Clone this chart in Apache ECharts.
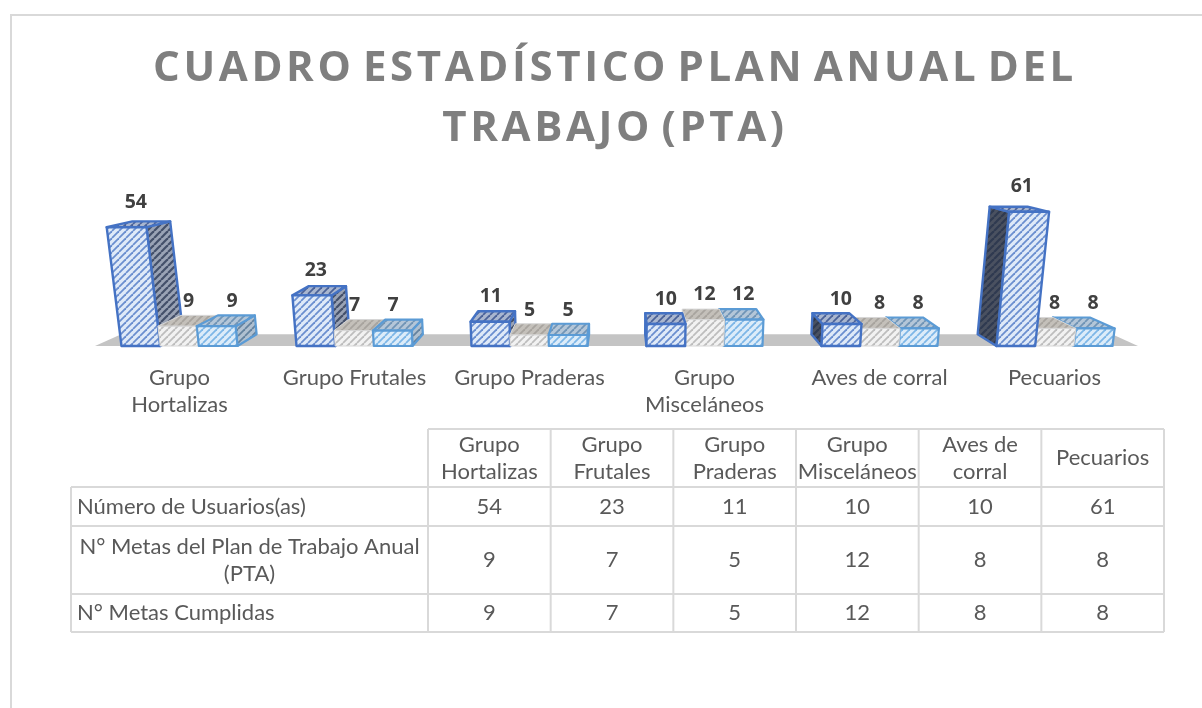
<!DOCTYPE html>
<html><head><meta charset="utf-8">
<style>html,body{margin:0;padding:0;background:#fff}#c{width:1202px;height:708px}</style>
<script src="https://cdn.jsdelivr.net/npm/echarts@6/dist/echarts.min.js"></script>
</head><body><div id="c"></div>
<script>
const categories = ['Grupo Hortalizas','Grupo Frutales','Grupo Praderas','Grupo Misceláneos','Aves de corral','Pecuarios'];
const axisLabels = ['Grupo\nHortalizas','Grupo Frutales','Grupo Praderas','Grupo\nMisceláneos','Aves de corral','Pecuarios'];
const headerLabels = ['Grupo\nHortalizas','Grupo\nFrutales','Grupo\nPraderas','Grupo\nMisceláneos','Aves de\ncorral','Pecuarios'];
const seriesNames = ['Número de Usuarios(as)','N° Metas del Plan de Trabajo Anual (PTA)','N° Metas Cumplidas'];
const rowLabels = ['Número de Usuarios(as)','N° Metas del Plan de Trabajo Anual\n(PTA)','N° Metas Cumplidas'];
const usuarios = [54,23,11,10,10,61];
const metas = [9,7,5,12,8,8];
const cumplidas = [9,7,5,12,8,8];
const titleText = 'CUADRO ESTADÍSTICO PLAN ANUAL DEL\nTRABAJO (PTA)';
const seriesData = [usuarios, metas, cumplidas];

const FONT = 'Lato, sans-serif', BOLD = '"Open Sans", sans-serif';
const CX = 620, VY = 110, DEPTH = 0.05, LEAN = 0.00055, BAND = 116/175;
const labelNudge = {0:[-5,9,14], 5:[6,0,0]};

function hatch(bg, fg, w){
  const s = 7, c = document.createElement('canvas'); c.width = s; c.height = s;
  const g = c.getContext('2d'); g.fillStyle = bg; g.fillRect(0,0,s,s);
  g.strokeStyle = fg; g.lineWidth = w;
  [-s,0,s].forEach(o=>{ g.beginPath(); g.moveTo(o,s); g.lineTo(o+s,0); g.stroke(); });
  return {image:c, repeat:'repeat'};
}
const skins = [
  {front:hatch('#dfeaf8','#6a8ecf',1.8), top:hatch('#a9b6cf','#4a6298',1.8), side:hatch('#9aa3b5','#44506a',2.2), sideR:hatch('#4a5160','#2f3a50',2.2), line:'#4472c4', lw:2.4},
  {front:hatch('#f2f2f2','#bdbdbd',1.8), top:hatch('#c4c0ba','#a8a49e',1.8), side:hatch('#c0bdb8','#a4a09a',1.8), sideR:hatch('#c0bdb8','#a4a09a',1.8), line:'#d6d6d6', lw:1},
  {front:hatch('#dcecf9','#7db6e6',1.8), top:hatch('#b4c6d8','#7094b6',1.8), side:hatch('#b0c0d0','#64829e',1.8), sideR:hatch('#b0c0d0','#64829e',1.8), line:'#5b9bd5', lw:2.2}
];

function project(p){ return [CX+(p[0]-CX)*(1-DEPTH), VY+(p[1]-VY)*(1-DEPTH)]; }

function boxRenderer(si){
  return function(params, api){
    const i = api.value(0), v = api.value(1);
    const base = api.coord([i,0]), top = api.coord([i,v]);
    const bw = api.size([1,0])[0]*BAND/3;
    const x0 = base[0]-1.5*bw+si*bw, x1 = x0+bw;
    const lean = x=>CX+(x-CX)*(1+v*LEAN);
    const fbl=[x0,base[1]], fbr=[x1,base[1]], ftl=[lean(x0),top[1]], ftr=[lean(x1),top[1]];
    const bbl=project(fbl), bbr=project(fbr), btl=project(ftl), btr=project(ftr);
    const mid = (x0+x1)/2, left = mid<CX;
    const z = left ? si*3 : (2-si)*3;
    const sk = skins[si];
    const poly=(pts,fill,dz)=>({type:'polygon',z2:z+dz,shape:{points:pts},
      style:{fill:fill,stroke:sk.line,lineWidth:sk.lw,lineJoin:'round'}});
    const side = left ? poly([fbr,bbr,btr,ftr], sk.side, 0)
                      : poly([fbl,bbl,btl,ftl], si===0 && i>=4 ? sk.sideR : sk.side, 0);
    const nudge = (labelNudge[i]||[0,0,0])[si];
    return {type:'group',children:[
      side,
      poly([ftl,ftr,btr,btl], sk.top, 1),
      poly([fbl,fbr,ftr,ftl], sk.front, 2),
      {type:'text',z2:40,style:{text:String(v),x:mid+nudge,y:top[1]-25,align:'center',verticalAlign:'middle',
        font:'bold 19.5px '+BOLD,fill:'#404040'}}
    ]};
  };
}
function floorRenderer(params, api){
  const c = params.coordSys, b = c.y+c.height, l=c.x+3, r=c.x+c.width-4;
  return {type:'polygon',z2:-1,silent:true,shape:{points:[[l,b],[r,b],project([r,b]),project([l,b])]},style:{fill:'#c4c4c4'}};
}

// table
const colX0 = 428, colW = 122.67, tblL = 71, rowY = [429,487,526,594,632], LINE='#d9d9d9';
const TXT = 22;
const g = [];
const hLine=(x1,x2,y)=>g.push({type:'line',shape:{x1,y1:y,x2,y2:y},style:{stroke:LINE,lineWidth:2},silent:true});
const vLine=(x,y1,y2)=>g.push({type:'line',shape:{x1:x,y1,x2:x,y2},style:{stroke:LINE,lineWidth:2},silent:true});
const cell=(t,x,y,al)=>g.push({type:'text',x:x,y:y,silent:true,style:{text:t,align:al,verticalAlign:'middle',font:TXT+'px '+FONT,lineHeight:27,fill:'#595959'}});
const tblR = colX0+colW*categories.length;
// outer frame: left and top edges visible, the others run off the picture
g.push({type:'rect',silent:true,shape:{x:11,y:15,width:1300,height:800},style:{fill:'none',stroke:'#d9d9d9',lineWidth:2}});
hLine(colX0,tblR,rowY[0]);
for(let r=1;r<rowY.length;r++) hLine(tblL,tblR,rowY[r]);
vLine(tblL,rowY[1],rowY[4]);
for(let c=0;c<=categories.length;c++) vLine(colX0+c*colW,rowY[0],rowY[4]);
headerLabels.forEach((t,c)=>cell(t,colX0+(c+.5)*colW,(rowY[0]+rowY[1])/2,'center'));
rowLabels.forEach((t,r)=>{
  const my=(rowY[r+1]+rowY[r+2])/2;
  if(t.includes('\n')) cell(t,(tblL+colX0)/2,my,'center'); else cell(t,tblL+6,my,'left');
  seriesData[r].forEach((v,c)=>cell(String(v),colX0+(c+.5)*colW,my,'center'));
});

const chart = echarts.init(document.getElementById('c'),null,{renderer:'canvas'});
// the title sits on its own canvas layer so that it can be letter-spaced
const titleLayer = chart.getZr().painter.getLayer(5);
if(titleLayer && titleLayer.ctx){ titleLayer.ctx.letterSpacing = '3.6px'; titleLayer.ctx.wordSpacing = '-6px'; }
chart.setOption({
  animation:false, backgroundColor:'#fff',
  title:{text:titleText,left:610,top:34,textAlign:'center',zlevel:5,
    textStyle:{fontFamily:BOLD,fontWeight:'bold',fontSize:42,lineHeight:60,color:'#7f7f7f'}},
  grid:{left:92,right:60,top:192,height:154},
  xAxis:{type:'category',data:categories,
    axisLine:{show:false},axisTick:{show:false},splitLine:{show:false},
    axisLabel:{interval:0,margin:18,fontFamily:FONT,fontSize:TXT,lineHeight:27,color:'#595959',
      formatter:(val,idx)=>axisLabels[idx]}},
  yAxis:{type:'value',min:0,max:70,show:false},
  graphic:g,
  series:[
    {type:'custom',name:'suelo',renderItem:floorRenderer,data:[[0,0]],silent:true,encode:{x:0,y:1}},
    ...seriesNames.map((n,si)=>({type:'custom',name:n,renderItem:boxRenderer(si),encode:{x:0,y:1},
      data:seriesData[si].map((v,i)=>[i,v])}))
  ]
});
</script></body></html>
